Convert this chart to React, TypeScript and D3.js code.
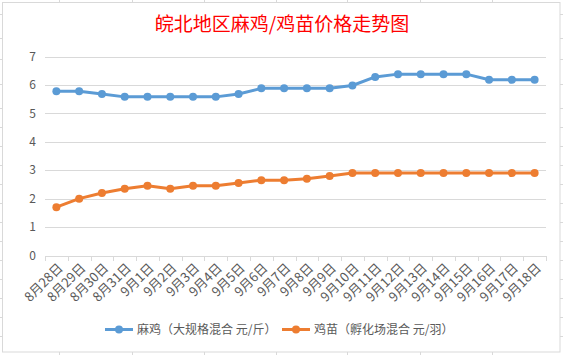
import React from "react";
import * as d3 from "d3";

const categories = [
  "8月28日", "8月29日", "8月30日", "8月31日", "9月1日", "9月2日", "9月3日", "9月4日",
  "9月5日", "9月6日", "9月7日", "9月8日", "9月9日", "9月10日", "9月11日", "9月12日",
  "9月13日", "9月14日", "9月15日", "9月16日", "9月17日", "9月18日",
];
const chickenPrices = [
  5.78, 5.78, 5.68, 5.58, 5.58, 5.58, 5.58, 5.58, 5.68, 5.88, 5.88, 5.88, 5.88, 5.98, 6.28, 6.38,
  6.38, 6.38, 6.38, 6.18, 6.18, 6.18,
];
const chickPrices = [
  1.7, 2.0, 2.2, 2.35, 2.45, 2.35, 2.45, 2.45, 2.55, 2.65, 2.65, 2.7, 2.8, 2.9, 2.9,
  2.9, 2.9, 2.9, 2.9, 2.9, 2.9, 2.9,
];
const yTicks = [0, 1, 2, 3, 4, 5, 6, 7];
const seriesNames = ["麻鸡（大规格混合 元/斤）", "鸡苗（孵化场混合 元/羽）"];
const title = "皖北地区麻鸡/鸡苗价格走势图";

const W = 563;
const H = 355;
const FONT = "'Noto Sans CJK SC', 'Noto Sans', sans-serif";
const GRID = "#d9d9d9";
const TEXT = "#595959";
const colors = ["#5b9bd5", "#ed7d31"];

const rowYs = [14, 38, 59, 84, 108, 127, 146, 165, 184, 203, 222, 241, 260, 279, 298, 317, 336];
const colXs = [59, 132, 204, 276, 347, 420, 492];

export default function App() {
  const x = d3.scaleBand<string>().domain(categories).range([45, 546]);
  const y = d3.scaleLinear().domain([0, 7]).range([255.5, 56.5]);
  const cx = (c: string) => (x(c) as number) + x.bandwidth() / 2;
  const line = d3
    .line<number>()
    .x((_, i) => cx(categories[i]))
    .y((d) => y(d));
  const series = [chickenPrices, chickPrices];
  const boundaries = categories.map((c) => x(c) as number).concat([546]);

  const legendItems = [
    { x: 105, name: seriesNames[0], color: colors[0] },
    { x: 282, name: seriesNames[1], color: colors[1] },
  ];

  return (
    <svg
      width={W}
      height={H}
      style={{ position: "fixed", left: 0, top: 0, background: "#fff" }}
      fontFamily={FONT}
    >
      <rect x={0} y={0} width={W} height={H} fill="#fff" />
      {rowYs.map((ry) => (
        <g key={"r" + ry}>
          <line x1={0} x2={3} y1={ry + 0.5} y2={ry + 0.5} stroke={GRID} />
          <line x1={560} x2={563} y1={ry + 0.5} y2={ry + 0.5} stroke={GRID} />
        </g>
      ))}
      {colXs.map((cxx) => (
        <g key={"c" + cxx}>
          <line x1={cxx + 0.5} x2={cxx + 0.5} y1={0} y2={3} stroke={GRID} />
          <line x1={cxx + 0.5} x2={cxx + 0.5} y1={352} y2={355} stroke={GRID} />
        </g>
      ))}
      <rect x={2.5} y={2.5} width={557.5} height={349.5} fill="#fff" stroke={GRID} />

      <text x={282} y={31} textAnchor="middle" fontSize={19} fill="#ff0000">
        {title}
      </text>

      {yTicks.map((t) => (
        <g key={"y" + t}>
          <line x1={45} x2={546} y1={Math.round(y(t)) + 0.5} y2={Math.round(y(t)) + 0.5} stroke={GRID} />
          <text x={36} y={y(t)} dy="0.35em" textAnchor="end" fontSize={12} fill={TEXT}>
            {t}
          </text>
        </g>
      ))}
      {boundaries.map((b, i) => (
        <line
          key={"t" + i}
          x1={Math.round(b) + 0.5}
          x2={Math.round(b) + 0.5}
          y1={Math.round(y(0))}
          y2={Math.round(y(0)) + 5}
          stroke={GRID}
        />
      ))}
      {categories.map((c) => (
        <text
          key={"xl" + c}
          transform={`translate(${cx(c) + 4},${y(0) + 10}) rotate(-45)`}
          textAnchor="end"
          dy="0.35em"
          fontSize={13}
          fill={TEXT}
        >
          {c}
        </text>
      ))}

      {series.map((s, si) => (
        <g key={"s" + si}>
          <path
            d={line(s) || ""}
            fill="none"
            stroke={colors[si]}
            strokeWidth={3}
            strokeLinejoin="round"
            strokeLinecap="round"
          />
          {s.map((v, i) => (
            <circle key={i} cx={cx(categories[i])} cy={y(v)} r={4} fill={colors[si]} />
          ))}
        </g>
      ))}

      {legendItems.map((l) => (
        <g key={l.name}>
          <line x1={l.x} x2={l.x + 28} y1={329.5} y2={329.5} stroke={l.color} strokeWidth={3} />
          <circle cx={l.x + 14} cy={329.5} r={4} fill={l.color} />
          <text x={l.x + 32} y={329.5} dy="0.35em" fontSize={12} fill={TEXT}>
            {l.name}
          </text>
        </g>
      ))}
    </svg>
  );
}
